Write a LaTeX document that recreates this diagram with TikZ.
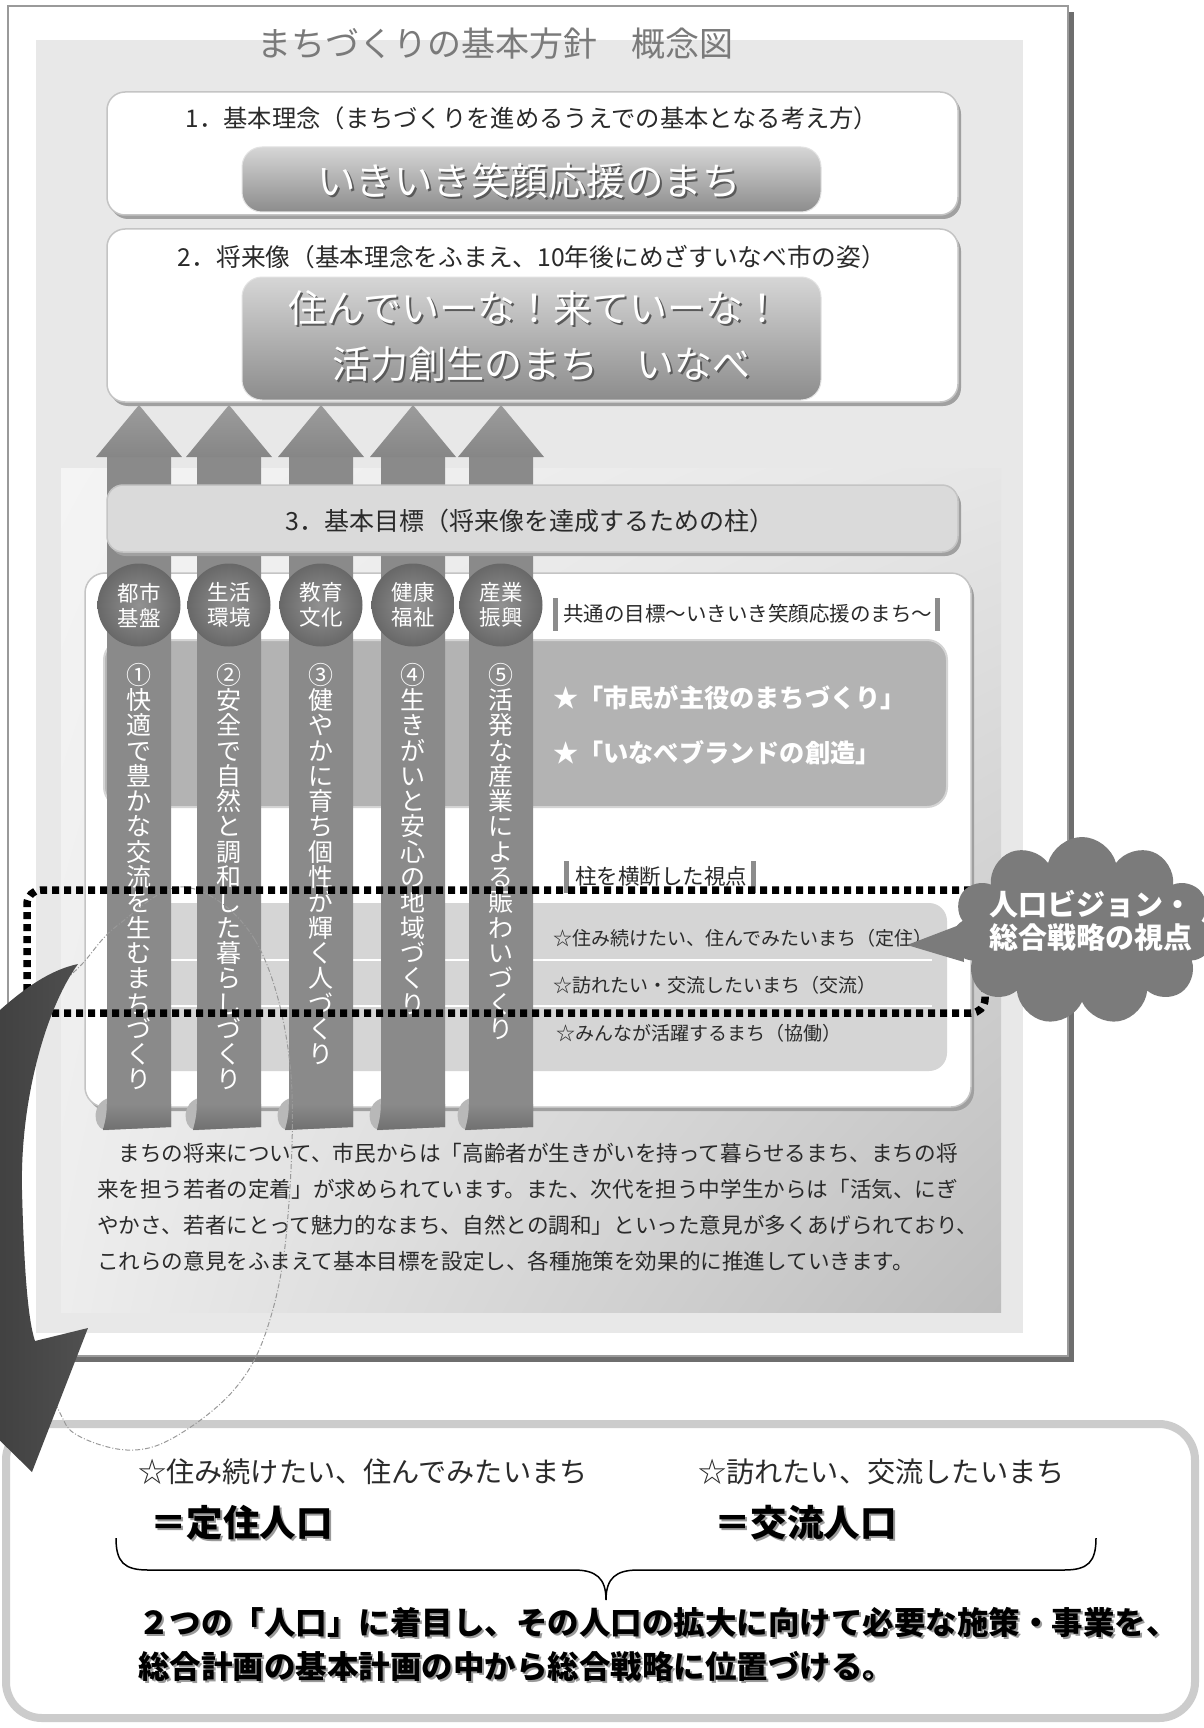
\documentclass[tikz,border=0pt]{standalone}
\usepackage{fontspec}
\newfontfamily\jp{Noto Sans CJK JP}
\usetikzlibrary{shapes.symbols,shadings}
\newcommand\jf[1]{\jp\fontsize{#1}{#1}\selectfont}
\newcommand\jfb[1]{\jp\bfseries\fontsize{#1}{#1}\selectfont}
\definecolor{framesh}{HTML}{6E6E6E}
\definecolor{frameln}{HTML}{9A9A9A}
\definecolor{panel}{HTML}{E8E8E8}
\definecolor{titlec}{HTML}{7A7A7A}
\definecolor{boxline}{HTML}{C4C4C4}
\definecolor{shgray}{HTML}{A0A0A0}
\definecolor{txt}{HTML}{2A2A2A}
\definecolor{box3}{HTML}{DADADA}
\definecolor{starbox}{HTML}{B3B3B3}
\definecolor{starline}{HTML}{D4D4D4}
\definecolor{pinbox}{HTML}{D5D5D5}
\definecolor{shaft}{HTML}{8A8A8A}
\definecolor{shaftdk}{HTML}{707070}
\definecolor{headtop}{HTML}{9C9C9C}
\definecolor{headbot}{HTML}{868686}
\definecolor{curl}{HTML}{B8B8B8}
\definecolor{circin}{HTML}{929292}
\definecolor{circout}{HTML}{686868}
\definecolor{cloudc}{HTML}{7B7B7B}
\definecolor{arrowdk}{HTML}{363636}
\definecolor{arrowlt}{HTML}{505050}
\definecolor{bbline}{HTML}{CCCCCC}
\definecolor{pilltop}{HTML}{D6D6D6}
\definecolor{pillmid}{HTML}{B0B0B0}
\definecolor{pillbot}{HTML}{8C8C8C}
\definecolor{pillline}{HTML}{E2E2E2}
\definecolor{tshadow}{HTML}{5A5A5A}
\definecolor{bsh}{HTML}{9A9A9A}
\definecolor{bar}{HTML}{8C8C8C}
\definecolor{p3ul}{HTML}{F4F4F4}
\definecolor{p3ur}{HTML}{E6E6E6}
\definecolor{p3ll}{HTML}{EDEDED}
\definecolor{p3lr}{HTML}{BDBDBD}
\definecolor{dashc}{HTML}{999999}
\begin{document}
\begin{tikzpicture}[x=1pt,y=-1pt,
  every node/.style={inner sep=0pt,outer sep=0pt},
  sh/.style={preaction={fill=shgray,transform canvas={shift={(3pt,-4pt)}}}},
  whitebox/.style={sh,draw=boxline,line width=1.5pt,fill=white,rounded corners=18pt},
  pill/.style={draw=pillline,line width=1pt,rounded corners=20pt,top color=pilltop,middle color=pillmid,bottom color=pillbot},
  circ/.style={circle,minimum size=83pt,inner color=circin,outer color=circout,text=white,align=center,font=\jp\fontsize{21.5}{25}\selectfont},
  vt/.style={anchor=north,align=center,text=white,font=\jp\fontsize{25}{25.3}\selectfont},
  lbl/.style={anchor=west,text=txt},
]
\useasboundingbox (0,0) rectangle (1203,1728);
\fill[white] (0,0) rectangle (1203,1728);

% frame and panel
\fill[framesh] (14,12) rectangle (1074,1362);
\filldraw[fill=white,draw=frameln,line width=1.5pt] (8,6) rectangle (1068,1356);
\fill[panel] (36,40) rectangle (1023,1333);
\node[font=\jf{34},text=titlec] (title) at (495,44) {まちづくりの基本方針　概念図};

% box 1
\node[whitebox,minimum width=851pt,minimum height=123pt] (b1) at (532.5,153.5) {};
\node[font=\jf{24.3},text=txt] (h1) at (532,118) {1．基本理念（まちづくりを進めるうえでの基本となる考え方）};
\node[pill,minimum width=579pt,minimum height=65pt] (p1) at (531.5,179.5) {};
\node[font=\jf{38.5},text=tshadow] at (531,183) {いきいき笑顔応援のまち};
\node[font=\jf{38.5},text=white] (p1t) at (529,181) {いきいき笑顔応援のまち};

% box 2
\node[whitebox,minimum width=851pt,minimum height=173pt] (b2) at (532.5,315.5) {};
\node[font=\jf{24.7},text=txt] (h2) at (532,257) {2．将来像（基本理念をふまえ、10年後にめざすいなべ市の姿）};
\node[pill,minimum width=579pt,minimum height=123pt] (p2) at (531.5,338.5) {};
\node[font=\jf{38},text=tshadow] at (537,310) {住んでいーな！来ていーな！};
\node[font=\jf{38},text=white] (p2a) at (535,308) {住んでいーな！来ていーな！};
\node[font=\jf{38},text=tshadow] at (543,366) {活力創生のまち　いなべ};
\node[font=\jf{38},text=white] (p2b) at (541,364) {活力創生のまち　いなべ};

% section 3 panel
\shade[upper left=p3ul,upper right=p3ur,lower left=p3ll,lower right=p3lr] (61,468) rectangle (1001,1312);
\node[whitebox,rounded corners=20pt,minimum width=886pt,minimum height=534pt] (wp) at (528,840) {};
\node[fill=starbox,draw=starline,line width=2pt,rounded corners=20pt,minimum width=843pt,minimum height=167pt] (sb) at (525.5,723.5) {};
\node[fill=pinbox,rounded corners=18pt,minimum width=832pt,minimum height=168pt] (pb) at (531,987) {};
\draw[white,line width=2.5pt] (116,960) -- (932,960);
\draw[white,line width=2.5pt] (116,1006) -- (932,1006);

% arrows
\foreach \c in {139,229,321,413,501}{
  \fill[curl] (\c-30,1098) .. controls (\c-47,1102) and (\c-47,1126) .. (\c-35,1130) -- (\c-30,1130) -- cycle;
  \fill[shaft] (\c-32,455) -- (\c+32,455) -- (\c+32,1127) -- (\c-36,1130) .. controls (\c-33,1120) and (\c-32,1112) .. (\c-32,1104) -- cycle;
  \shade[top color=shaft,bottom color=shaftdk] (\c-32,1104) -- (\c+32,1104) -- (\c+32,1127) -- (\c-36,1130) .. controls (\c-33,1120) and (\c-32,1112) .. (\c-32,1104) -- cycle;
  \shade[top color=headtop,bottom color=headbot] (\c-43,457) -- (\c,405) -- (\c+43,457) -- cycle;
}

% box 3
\node[sh,fill=box3,draw=boxline,line width=1.5pt,rounded corners=16pt,minimum width=851pt,minimum height=67pt] (b3) at (532.5,518.5) {};
\node[font=\jf{25},text=txt] (h3) at (530,521) {3．基本目標（将来像を達成するための柱）};

% circles
\node[circ] (c1) at (139,605) {都市\\基盤};
\node[circ] (c2) at (229,605) {生活\\環境};
\node[circ] (c3) at (321,605) {教育\\文化};
\node[circ] (c4) at (413,605) {健康\\福祉};
\node[circ] (c5) at (501,605) {産業\\振興};

% vertical texts
\node[vt] (v1) at (139,663) {①\\快\\適\\で\\豊\\か\\な\\交\\流\\を\\生\\む\\ま\\ち\\づ\\く\\り};
\node[vt] (v2) at (229,663) {②\\安\\全\\で\\自\\然\\と\\調\\和\\し\\た\\暮\\ら\\し\\づ\\く\\り};
\node[vt] (v3) at (321,663) {③\\健\\や\\か\\に\\育\\ち\\個\\性\\が\\輝\\く\\人\\づ\\く\\り};
\node[vt] (v4) at (413,663) {④\\生\\き\\が\\い\\と\\安\\心\\の\\地\\域\\づ\\く\\り};
\node[vt] (v5) at (501,663) {⑤\\活\\発\\な\\産\\業\\に\\よ\\る\\賑\\わ\\い\\づ\\く\\り};

% labels in panel
\node[lbl,font=\jf{20.5}] (common) at (563,614) {共通の目標～いきいき笑顔応援のまち～};
\fill[bar] (553,598) rectangle (558,631);
\fill[bar] (935,598) rectangle (940,631);
\node[anchor=west,font=\jfb{25.2},text=white] (s1) at (553,698) {★「市民が主役のまちづくり」};
\node[anchor=west,font=\jfb{25.2},text=white] (s2) at (553,753) {★「いなべブランドの創造」};
\node[lbl,font=\jf{21.5}] (cross) at (575,876) {柱を横断した視点};
\fill[bar] (564,861) rectangle (569,893);
\fill[bar] (751,861) rectangle (756,893);
\node[lbl,font=\jf{19}] (t1) at (553,938) {☆住み続けたい、住んでみたいまち（定住）};
\node[lbl,font=\jf{19}] (t2) at (553,985) {☆訪れたい・交流したいまち（交流）};
\node[lbl,font=\jf{19}] (t3) at (556,1033) {☆みんなが活躍するまち（協働）};

% paragraph
\node[lbl,font=\jf{21.6}] (para1) at (97,1153) {　まちの将来について、市民からは「高齢者が生きがいを持って暮らせるまち、まちの将};
\node[lbl,font=\jf{21.6}] (para2) at (97,1189) {来を担う若者の定着」が求められています。また、次代を担う中学生からは「活気、にぎ};
\node[lbl,font=\jf{21.6}] (para3) at (97,1225) {やかさ、若者にとって魅力的なまち、自然との調和」といった意見が多くあげられており、};
\node[lbl,font=\jf{21.6}] (para4) at (97,1261) {これらの意見をふまえて基本目標を設定し、各種施策を効果的に推進していきます。};

% bottom box
\node[draw=bbline,line width=8pt,fill=white,rounded corners=36pt,minimum width=1189pt,minimum height=294pt] (bb) at (600.5,1571) {};
\node[lbl,font=\jf{28.2}] (q1) at (138,1472) {☆住み続けたい、住んでみたいまち};
\node[lbl,font=\jf{28.2}] (q2) at (698,1472) {☆訪れたい、交流したいまち};
\node[anchor=west,font=\jfb{36.5},text=bsh] at (152,1525) {＝定住人口};
\node[anchor=west,font=\jfb{36.5},text=black] (pop1) at (150,1523) {＝定住人口};
\node[anchor=west,font=\jfb{36.5},text=bsh] at (716,1525) {＝交流人口};
\node[anchor=west,font=\jfb{36.5},text=black] (pop2) at (714,1523) {＝交流人口};
\draw[line width=1.5pt] (116,1538) .. controls (116,1562) and (124,1570) .. (148,1570) -- (574,1570) .. controls (596,1570) and (606,1578) .. (606,1600) .. controls (606,1578) and (616,1570) .. (638,1570) -- (1064,1570) .. controls (1088,1570) and (1096,1562) .. (1096,1538);
\node[anchor=west,font=\jfb{31.5},text=bsh] at (140,1624) {２つの「人口」に着目し、その人口の拡大に向けて必要な施策・事業を、};
\node[anchor=west,font=\jfb{31.5},text=black] (con1) at (138,1622) {２つの「人口」に着目し、その人口の拡大に向けて必要な施策・事業を、};
\node[anchor=west,font=\jfb{31.5},text=bsh] at (140,1668) {総合計画の基本計画の中から総合戦略に位置づける。};
\node[anchor=west,font=\jfb{31.5},text=black] (con2) at (138,1666) {総合計画の基本計画の中から総合戦略に位置づける。};

% dashed curve
\draw[dashc,line width=1pt,dash pattern=on 5pt off 2pt on 1pt off 2pt] plot[smooth cycle,tension=0.6] coordinates {(185,887) (255,940) (290,1064) (287,1227) (267,1329) (233,1391) (173,1438) (127,1450) (77,1435) (58,1409) (22,1330) (10,1200) (18,1080) (45,1005) (83,963) (118,925)};

% dotted frame
\node[draw=black,line width=7.5pt,dash pattern=on 7pt off 5pt,rounded corners=14pt,minimum width=958pt,minimum height=123pt] (dots) at (506,951.5) {};

% big curved arrow
\shade[left color=arrowdk,right color=arrowlt] (78,964) .. controls (46,1008) and (20,1100) .. (22,1190) .. controls (24,1270) and (28,1320) .. (35,1341) -- (88,1328) -- (32,1472) -- (-70,1372) -- (-40,1352) .. controls (-50,1200) and (-30,1060) .. (0,1010) .. controls (25,988) and (50,970) .. (78,964) -- cycle;

% cloud
\node[cloud,cloud puffs=11,aspect=1.35,fill=cloudc,minimum width=262pt,minimum height=188pt] (cloud) at (1082,931) {};
\fill[cloudc] (962,924) -- (907,945) -- (964,962) -- cycle;
\node[align=center,font=\jp\bfseries\fontsize{29}{33}\selectfont,text=white] (ct) at (1091,921) {人口ビジョン・\\総合戦略の視点};
\end{tikzpicture}
\end{document}
